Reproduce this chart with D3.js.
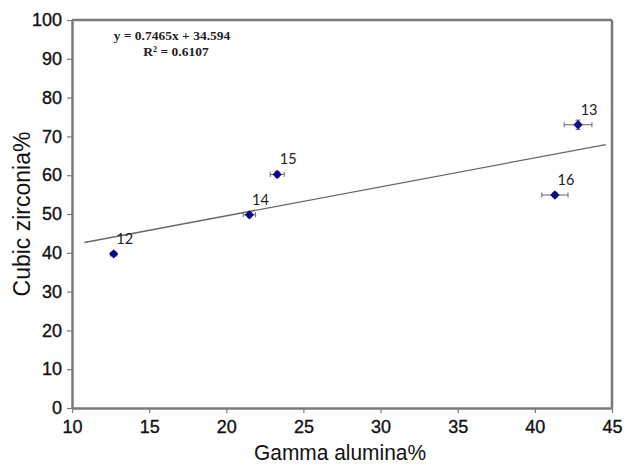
<!DOCTYPE html>
<html><head><meta charset="utf-8">
<script src="https://cdn.jsdelivr.net/npm/d3@7/dist/d3.min.js"></script>
<style>body{margin:0;background:#fff}svg{display:block}</style>
</head><body><svg id="c" width="630" height="466"></svg>
<script>
const labels = ["12","13","14","15","16"];
const xValues = [12.7, 42.8, 21.5, 23.3, 41.3];
const yValues = [39.7, 73.0, 49.8, 60.2, 54.9];
const xErr = [0.2, 0.9, 0.4, 0.45, 0.85];
const yErr = [0.5, 1.2, 0.6, 0.7, 0.6];
const slope = 0.7465, intercept = 34.594, r2 = "0.6107";
const trendRange = [10.8, 44.6];
const xTicks = [10,15,20,25,30,35,40,45];
const yTicks = [0,10,20,30,40,50,60,70,80,90,100];

const svg = d3.select("#c");
const L=72, R=612, T=20, B=408;
const x = d3.scaleLinear().domain([10,45]).range([L,R]);
const y = d3.scaleLinear().domain([0,100]).range([B,T]);
const axisColor = "#7a7a7a";
const sans = "'Liberation Sans', Arial, sans-serif";

// frame top/right
svg.append("line").attr("x1",L).attr("x2",R).attr("y1",T).attr("y2",T).attr("stroke",axisColor).attr("stroke-width",2.5);
svg.append("line").attr("x1",R).attr("x2",R).attr("y1",T).attr("y2",B).attr("stroke",axisColor).attr("stroke-width",2.5);

const xa = svg.append("g").attr("transform",`translate(0,${B})`)
  .call(d3.axisBottom(x).tickValues(xTicks).tickSize(5).tickSizeOuter(0));
const ya = svg.append("g").attr("transform",`translate(${L},0)`)
  .call(d3.axisLeft(y).tickValues(yTicks).tickSize(5).tickSizeOuter(0));
[xa,ya].forEach(a=>{
  a.select(".domain").attr("stroke",axisColor).attr("stroke-width",2.5);
  a.selectAll(".tick line").attr("stroke",axisColor).attr("stroke-width",1.2);
  a.selectAll("text").attr("fill","#111").attr("stroke","#111").attr("stroke-width",0.35)
    .style("font-family",sans).style("font-size","18px");
});
xa.selectAll("text").attr("dy","0.92em");
ya.selectAll("text").attr("dx","-2px");

// axis titles
svg.append("text").attr("x",340).attr("y",460).attr("text-anchor","middle")
  .attr("textLength",172).attr("lengthAdjust","spacingAndGlyphs")
  .style("font-family",sans).style("font-size","22px").attr("fill","#111").text("Gamma alumina%");
svg.append("text").attr("transform",`translate(30,214) rotate(-90)`).attr("text-anchor","middle")
  .style("font-family",sans).style("font-size","23px").attr("fill","#111").text("Cubic zirconia%");

// trendline
svg.append("line")
  .attr("x1",x(trendRange[0])).attr("y1",y(slope*trendRange[0]+intercept))
  .attr("x2",x(trendRange[1])).attr("y2",y(slope*trendRange[1]+intercept))
  .attr("stroke","#666").attr("stroke-width",1.3);

// equation
const eq = svg.append("g").style("font-family","'Liberation Serif','Times New Roman',serif").style("font-size","13.5px").style("font-weight","bold").attr("fill","#222");
eq.append("text").attr("x",172).attr("y",40).attr("text-anchor","middle").text(`y = ${slope}x + ${intercept}`);
eq.append("text").attr("x",176).attr("y",56).attr("text-anchor","middle").text(`R² = ${r2}`);

// points
const data = labels.map((l,i)=>({l, x:xValues[i], y:yValues[i], ex:xErr[i], ey:yErr[i]}));
const g = svg.append("g");
data.forEach(d=>{
  const cx=x(d.x), cy=y(d.y);
  const eg = g.append("g").attr("stroke","#666").attr("stroke-width",1);
  eg.append("line").attr("x1",x(d.x-d.ex)).attr("x2",x(d.x+d.ex)).attr("y1",cy).attr("y2",cy);
  eg.append("line").attr("x1",x(d.x-d.ex)).attr("x2",x(d.x-d.ex)).attr("y1",cy-2.5).attr("y2",cy+2.5);
  eg.append("line").attr("x1",x(d.x+d.ex)).attr("x2",x(d.x+d.ex)).attr("y1",cy-2.5).attr("y2",cy+2.5);
  eg.append("line").attr("x1",cx).attr("x2",cx).attr("y1",y(d.y-d.ey)).attr("y2",y(d.y+d.ey));
  eg.append("line").attr("x1",cx-2.5).attr("x2",cx+2.5).attr("y1",y(d.y-d.ey)).attr("y2",y(d.y-d.ey));
  eg.append("line").attr("x1",cx-2.5).attr("x2",cx+2.5).attr("y1",y(d.y+d.ey)).attr("y2",y(d.y+d.ey));
  g.append("path").attr("d",d3.symbol().type(d3.symbolDiamond2).size(55)()).attr("transform",`translate(${cx},${cy})`).attr("fill","#0a0a8a");
  g.append("text").attr("x",cx+11).attr("y",cy-10).attr("text-anchor","middle")
    .style("font-family","Lato, 'Open Sans', sans-serif").style("font-size","14.5px").attr("fill","#222").text(d.l);
});
</script></body></html>
